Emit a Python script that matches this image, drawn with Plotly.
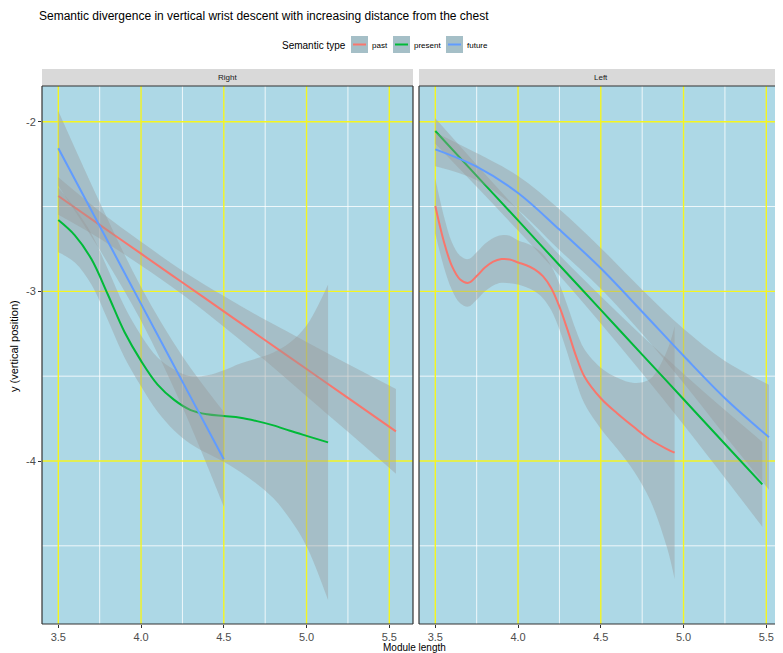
import plotly.graph_objects as go

# ---------------- data ----------------
groups = ["past", "present", "future"]
group_colors = ["#F8766D", "#00BA38", "#619CFF"]
facets = ["Right", "Left"]
x_ticks = [3.5, 4.0, 4.5, 5.0, 5.5]
x_tick_labels = ["3.5", "4.0", "4.5", "5.0", "5.5"]
x_minor = [3.75, 4.25, 4.75, 5.25]
y_ticks = [-2, -3, -4]
y_tick_labels = ["-2", "-3", "-4"]
y_minor = [-2.5, -3.5, -4.5]

# Right facet
right_past_x = [3.50, 3.75, 4.00, 4.25, 4.50, 4.75, 5.00, 5.25, 5.54]
right_past_y = [-2.438, -2.608, -2.778, -2.948, -3.118, -3.288, -3.458, -3.628, -3.825]
right_past_se = [0.11, 0.08, 0.07, 0.07, 0.09, 0.12, 0.16, 0.20, 0.25]

right_present_x = [3.50, 3.60, 3.70, 3.80, 3.90, 4.00, 4.10, 4.20, 4.30, 4.40, 4.50,
                   4.60, 4.70, 4.80, 4.90, 5.00, 5.13]
right_present_y = [-2.58, -2.67, -2.81, -3.02, -3.24, -3.41, -3.55, -3.64, -3.70, -3.725,
                   -3.735, -3.745, -3.765, -3.79, -3.822, -3.852, -3.89]
right_present_se = [0.19, 0.16, 0.15, 0.15, 0.15, 0.15, 0.16, 0.18, 0.20, 0.23, 0.27,
                    0.32, 0.37, 0.43, 0.52, 0.65, 0.93]

right_future_x = [3.50, 3.75, 4.00, 4.25, 4.50]
right_future_y = [-2.157, -2.615, -3.074, -3.532, -3.99]
right_future_se = [0.22, 0.14, 0.10, 0.15, 0.28]

# Left facet
left_past_x = [3.50, 3.55, 3.60, 3.65, 3.70, 3.75, 3.80, 3.85, 3.90, 3.95, 4.00, 4.05,
               4.10, 4.15, 4.20, 4.25, 4.30, 4.35, 4.40, 4.50, 4.60, 4.70, 4.80, 4.90, 4.946]
left_past_y = [-2.497, -2.70, -2.85, -2.93, -2.95, -2.91, -2.86, -2.825, -2.81, -2.812,
               -2.83, -2.846, -2.87, -2.91, -2.98, -3.09, -3.23, -3.38, -3.50, -3.63,
               -3.72, -3.80, -3.875, -3.93, -3.951]
left_past_se = [0.16, 0.15, 0.14, 0.14, 0.14, 0.14, 0.14, 0.14, 0.14, 0.14, 0.13, 0.13,
                0.13, 0.13, 0.13, 0.135, 0.14, 0.15, 0.16, 0.18, 0.21, 0.26, 0.36, 0.58, 0.745]

left_present_x = [3.50, 3.75, 4.00, 4.25, 4.50, 4.75, 5.00, 5.25, 5.476]
left_present_y = [-2.055, -2.319, -2.582, -2.846, -3.109, -3.373, -3.636, -3.90, -4.138]
left_present_se = [0.075, 0.065, 0.06, 0.06, 0.08, 0.11, 0.15, 0.20, 0.25]

left_future_x = [3.50, 3.75, 4.00, 4.25, 4.50, 4.75, 5.00, 5.25, 5.516]
left_future_y = [-2.163, -2.265, -2.42, -2.636, -2.864, -3.12, -3.38, -3.63, -3.86]
left_future_se = [0.10, 0.08, 0.10, 0.12, 0.12, 0.13, 0.16, 0.22, 0.31]

series = {
    "Right": [(right_past_x, right_past_y, right_past_se),
              (right_present_x, right_present_y, right_present_se),
              (right_future_x, right_future_y, right_future_se)],
    "Left": [(left_past_x, left_past_y, left_past_se),
             (left_present_x, left_present_y, left_present_se),
             (left_future_x, left_future_y, left_future_se)],
}

# ---------------- layout geometry ----------------
OFF = 8  # page body margin
W, H = 783 - OFF, 653 - OFF
ML, MR, MT, MB = 42 - OFF, 0, 86 - OFF, 29
PW = W - ML - MR   # 741
PH = H - MT - MB   # 538
PANEL_W = 371
GAP = 6
X_PER_UNIT = 165.5
X0 = 3.4015
Y_RANGE = [-4.9608, -1.7896]

FONT = "Liberation Sans, Arial, Helvetica, sans-serif"
RIBBON = "rgba(153,153,153,0.4)"
BORDER = "#333333"
MAJOR = "#F5F520"
MINOR = "rgba(255,255,255,0.8)"


def px2x(px):  # page pixel -> paper x
    return (px - OFF - ML) / PW


def py2y(py):  # page pixel -> paper y
    return (MT + PH - (py - OFF)) / PH


fig = go.Figure()
axis_ids = [("x", "y"), ("x2", "y2")]
for fi, facet in enumerate(facets):
    xa, ya = axis_ids[fi]
    for gi, (xs, ys, se) in enumerate(series[facet]):
        lo = [y - s for y, s in zip(ys, se)]
        hi = [y + s for y, s in zip(ys, se)]
        fig.add_trace(go.Scatter(x=xs, y=lo, mode="lines", line=dict(width=0, shape="spline"),
                                 xaxis=xa, yaxis=ya, showlegend=False, hoverinfo="skip"))
        fig.add_trace(go.Scatter(x=xs, y=hi, mode="lines", line=dict(width=0, shape="spline"),
                                 fill="tonexty", fillcolor=RIBBON,
                                 xaxis=xa, yaxis=ya, showlegend=False, hoverinfo="skip"))
        fig.add_trace(go.Scatter(x=xs, y=ys, mode="lines", name=groups[gi],
                                 line=dict(color=group_colors[gi], width=2, shape="spline"),
                                 xaxis=xa, yaxis=ya, showlegend=False))

axis_common = dict(
    showgrid=False, zeroline=False,
    ticklen=3, tickcolor=BORDER, tickwidth=1,
    tickfont=dict(family=FONT, size=11, color="#4D4D4D"), showline=False,
)

d1 = [0, PANEL_W / PW]
d2 = [(PANEL_W + GAP) / PW, 1]
fig.update_layout(
    xaxis=dict(domain=d1, range=[X0, X0 + PANEL_W / X_PER_UNIT], tickmode="array",
               tickvals=x_ticks, ticktext=x_tick_labels, anchor="y", ticks="outside", **axis_common),
    xaxis2=dict(domain=d2, range=[X0, X0 + (PW - PANEL_W - GAP) / X_PER_UNIT], tickmode="array",
                tickvals=x_ticks, ticktext=x_tick_labels, anchor="y2", ticks="outside", **axis_common),
    yaxis=dict(domain=[0, 1], range=Y_RANGE, tickmode="array", tickvals=y_ticks,
               ticktext=y_tick_labels, anchor="x", ticks="outside", **axis_common),
    yaxis2=dict(domain=[0, 1], range=Y_RANGE, tickmode="array", tickvals=y_ticks,
                ticktext=y_tick_labels, anchor="x2", showticklabels=False, ticks="", **axis_common),
)

shapes = []
annotations = []
strip_h = 17 / PH
for fi, facet in enumerate(facets):
    xa, ya = axis_ids[fi]
    xr = xa + " domain"
    yr = ya + " domain"
    # grid lines: minor white, major yellow (below the data)
    for v in x_minor:
        shapes.append(dict(type="line", xref=xa, yref=yr, x0=v, x1=v, y0=0, y1=1,
                           line=dict(color=MINOR, width=1), layer="below"))
    for v in y_minor:
        shapes.append(dict(type="line", xref=xr, yref=ya, x0=0, x1=1, y0=v, y1=v,
                           line=dict(color=MINOR, width=1), layer="below"))
    for v in x_ticks:
        shapes.append(dict(type="line", xref=xa, yref=yr, x0=v, x1=v, y0=0, y1=1,
                           line=dict(color=MAJOR, width=1.4), layer="below"))
    for v in y_ticks:
        shapes.append(dict(type="line", xref=xr, yref=ya, x0=0, x1=1, y0=v, y1=v,
                           line=dict(color=MAJOR, width=1.4), layer="below"))
    # strip
    shapes.append(dict(type="rect", xref=xr, yref=yr, x0=0, x1=1, y0=1, y1=1 + strip_h,
                       fillcolor="#D9D9D9", line=dict(width=0), layer="above"))
    annotations.append(dict(text=facet, xref=xr, yref=yr, x=0.5, y=1 + strip_h / 2,
                            showarrow=False, font=dict(family=FONT, size=8, color="#1A1A1A"),
                            xanchor="center", yanchor="middle"))
    # panel border
    lines = [(0, 0, 0, 1), (0, 1, 1, 1), (0, 0, 1, 0)]
    if fi == 0:
        lines.append((1, 0, 1, 1))
    for (a, b, c, d) in lines:
        shapes.append(dict(type="line", xref=xr, yref=yr, x0=a, y0=b, x1=c, y1=d,
                           line=dict(color=BORDER, width=1.2), layer="above"))

# axis titles
annotations.append(dict(text="Module length", xref="paper", yref="paper",
                        x=px2x(414), y=py2y(647), showarrow=False,
                        font=dict(family=FONT, size=10, color="#000000"),
                        xanchor="center", yanchor="middle"))
annotations.append(dict(text="y (vertical position)", xref="paper", yref="paper",
                        x=px2x(14), y=py2y(346), showarrow=False, textangle=-90,
                        font=dict(family=FONT, size=11, color="#000000"),
                        xanchor="center", yanchor="middle"))

# manual legend (ggplot-style keys)
annotations.append(dict(text="Semantic type", xref="paper", yref="paper",
                        x=px2x(348), y=py2y(45), showarrow=False,
                        font=dict(family=FONT, size=10, color="#000000"),
                        xanchor="right", yanchor="middle"))
key_left = [351, 393, 446]
for gi, g in enumerate(groups):
    kx = key_left[gi]
    shapes.append(dict(type="rect", xref="paper", yref="paper",
                       x0=px2x(kx), x1=px2x(kx + 17), y0=py2y(53), y1=py2y(36),
                       fillcolor="#A5BFC7", line=dict(width=0)))
    shapes.append(dict(type="line", xref="paper", yref="paper",
                       x0=px2x(kx + 2), x1=px2x(kx + 15), y0=py2y(44.5), y1=py2y(44.5),
                       line=dict(color=group_colors[gi], width=2)))
    annotations.append(dict(text=g, xref="paper", yref="paper",
                            x=px2x(kx + 19), y=py2y(45), showarrow=False,
                            font=dict(family=FONT, size=8, color="#000000"),
                            xanchor="left", yanchor="middle"))

fig.update_layout(
    width=W, height=H, autosize=False,
    margin=dict(l=ML, r=MR, t=MT, b=MB, pad=0),
    plot_bgcolor="#ADD8E6", paper_bgcolor="#FFFFFF",
    shapes=shapes, annotations=annotations, showlegend=False,
    title=dict(text="Semantic divergence in vertical wrist descent with increasing distance from the chest",
               x=(39 - OFF) / W, xref="container", xanchor="left",
               y=1 - (16 - OFF) / H, yref="container", yanchor="middle",
               font=dict(family=FONT, size=12, color="#000000")),
    font=dict(family=FONT),
    hovermode=False,
)

fig.write_html("out.html")
